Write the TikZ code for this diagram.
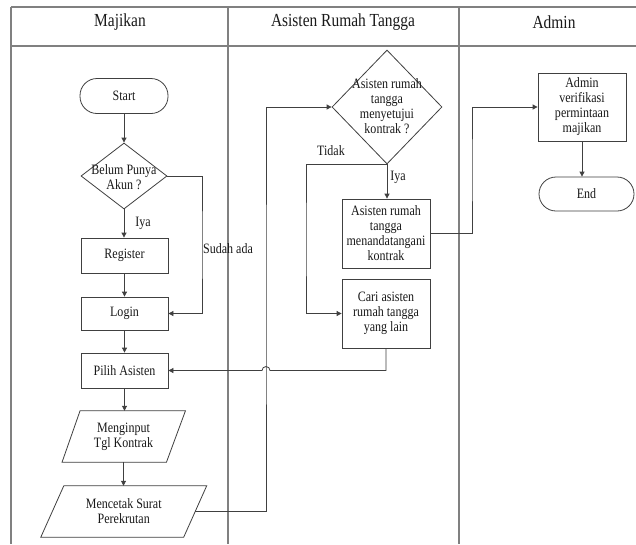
\documentclass[tikz,border=0pt]{standalone}
\usepackage{fontspec}
\setmainfont[FakeStretch=0.84]{Liberation Serif}
\usetikzlibrary{shapes.geometric,arrows.meta,calc}
\newcommand{\myNodeFont}{\fontsize{14.3}{15}\selectfont}
\newcommand{\myHeadFont}{\fontsize{18.4}{20}\selectfont}
\begin{document}
\begin{tikzpicture}[x=1pt,y=-1pt,
  lane/.style={draw=black!50, line width=1.2pt},
  box/.style={draw=black!75, line width=0.8pt, rectangle, inner sep=0pt, align=center, font=\myNodeFont, text=black!90},
  term/.style={box, rounded corners=17pt},
  dia/.style={diamond, draw=black!75, line width=0.8pt, inner sep=0pt},
  arr/.style={draw=black!75, line width=0.8pt, -{Triangle[length=5pt,width=5pt]}},
  ln/.style={draw=black!75, line width=0.8pt},
  lbl/.style={font=\myNodeFont, inner sep=0pt, align=center, text=black!90},
  hdr/.style={font=\myHeadFont, inner sep=0pt, text=black!90}
]
\useasboundingbox (0,0) rectangle (636,544);
\fill[white] (0,0) rectangle (636,544);

% lanes
\draw[lane] (11,7) -- (636,7);
\draw[lane] (11,46) -- (636,46);
\draw[lane] (11,7) -- (11,544);
\draw[lane] (228,7) -- (228,544);
\draw[lane] (459,7) -- (459,544);
\node[hdr] (h1) at (120,22) {Majikan};
\node[hdr] (h2) at (343,22) {Asisten Rumah Tangga};
\node[hdr] (h3) at (554,22) {Admin};

% Majikan lane
\node[term, minimum width=88pt, minimum height=35pt] (start) at (124,96) {Start};
\node[dia, minimum width=86pt, minimum height=66pt] (d1) at (124,176) {};
\node[lbl] (d1t) at (124,177) {Belum Punya\\Akun ?};
\node[box, minimum width=87pt, minimum height=35pt] (reg) at (124.5,255.5) {Register};
\node[box, minimum width=87pt, minimum height=33pt] (login) at (124.5,313.5) {Login};
\node[box, minimum width=87pt, minimum height=35pt] (pilih) at (124.5,370.5) {Pilih Asisten};
\node[lbl, minimum width=104.5pt, minimum height=51pt] (inp) at (123.5,436.5) {Menginput\\Tgl Kontrak};
\draw[ln] ($(inp.north west)+(9,0)$) -- ($(inp.north east)+(9.5,0)$) -- ($(inp.south east)+(-9.5,0)$) -- ($(inp.south west)+(-9,0)$) -- cycle;
\node[lbl, minimum width=142.5pt, minimum height=51pt] (cet) at (123.75,511.5) {Mencetak Surat\\Perekrutan};
\draw[ln] ($(cet.north west)+(11.5,0)$) -- ($(cet.north east)+(11.5,0)$) -- ($(cet.south east)+(-11.5,0)$) -- ($(cet.south west)+(-11.5,0)$) -- cycle;

% Asisten lane
\node[dia, minimum width=110pt, minimum height=114pt] (d2) at (387,107) {};
\node[lbl] (d2t) at (387,106) {Asisten rumah\\tangga\\menyetujui\\kontrak ?};
\node[box, minimum width=88pt, minimum height=69pt] (ttd) at (386,233.5) {Asisten rumah\\tangga\\menandatangani\\kontrak};
\node[box, minimum width=88pt, minimum height=69pt] (cari) at (386,313.5) {Cari asisten\\rumah tangga\\yang lain};

% Admin lane
\node[box, minimum width=88pt, minimum height=68pt] (adm) at (582,107) {Admin\\verifikasi\\permintaan\\majikan};
\node[term, minimum width=95pt, minimum height=34pt] (end) at (586.5,194) {End};

% bend coordinates
\coordinate (c1) at (202,245);
\coordinate (c2) at (266,300);
\coordinate (c3) at (306,240);
\coordinate (c4) at (472,170);

% connectors
\draw[arr] (start.south) -- (start.south |- d1.north);
\draw[arr] (d1.south) -- (d1.south |- reg.north);
\node[lbl] (iya1) at (143,223) {Iya};
\draw[arr] (d1.east) -| (c1) |- (login.east);
\node[lbl] (sud) at (228,249) {Sudah ada};
\draw[arr] (reg.south) -- (reg.south |- login.north);
\draw[arr] (login.south) -- (login.south |- pilih.north);
\draw[arr] (pilih.south) -- (pilih.south |- inp.north);
\draw[arr] (inp.south) -- (inp.south |- cet.north);
\draw[arr] (cet.east) -| (c2) |- (d2.west);
\draw[arr] (d2.south) -- (d2.south |- ttd.north);
\node[lbl] (iya2) at (398,177) {Iya};
\draw[arr] (d2.south) -| (c3) |- (cari.west);
\node[lbl] (tidak) at (331,151) {Tidak};
\draw[arr] (ttd.east) -| (c4) |- (adm.west);
\draw[arr] (adm.south) -- (adm.south |- end.north);
\draw[arr] (cari.south) -- (cari.south |- pilih.east) -- ($(c2 |- pilih.east)+(4,0)$) arc[start angle=0, end angle=180, radius=4pt] -- (pilih.east);
\end{tikzpicture}
\end{document}
